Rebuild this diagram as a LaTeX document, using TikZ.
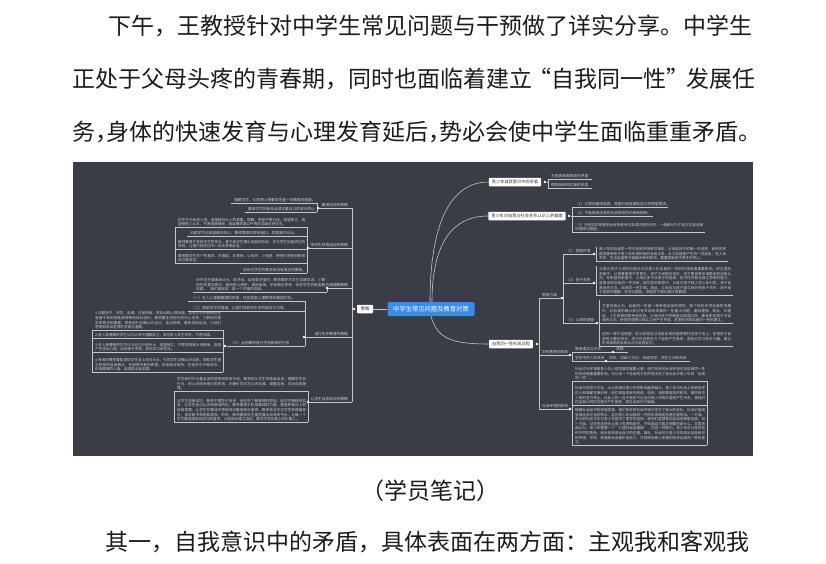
\documentclass[tikz,border=0pt]{standalone}
\usepackage{fontspec}
\setmainfont{Noto Sans CJK SC}
\XeTeXlinebreaklocale "zh"
\XeTeXlinebreakskip=0pt plus 0.5pt

\definecolor{mmbg}{RGB}{58,61,69}
\definecolor{mmline}{RGB}{196,198,202}
\definecolor{mmtext}{RGB}{205,207,211}
\definecolor{mmblue}{RGB}{58,140,232}
\definecolor{bodytext}{RGB}{28,28,28}

\newcommand\mmlabel[5]{%
  \node[lab, anchor=base west] (#1) at (#2+3,#3-1.4) {#5};
  \draw[mm] (#2,#3) -- (#4,#3);
}
\newcommand\mmlabelr[5]{%
  \node[lab, anchor=base east] (#1) at (#4-4,#3-1.4) {#5};
  \draw[mm] (#2,#3) -- (#4,#3);
}
\newcommand\mmblock[5]{%
  \pgfmathsetmacro\mmw{#4-#2-5}%
  \node[blk, text width=\mmw pt] (#1) at (#2+3,#3-0.8) {#5};
  \draw[mm] (#2,#3) -- (#4,#3);
}

\begin{document}
\begin{tikzpicture}[x=1pt, y=-1pt,
    body/.style={font=\fontsize{23}{28}\selectfont, text=bodytext, inner sep=0pt, anchor=base west},
    mm/.style={draw=mmline, line width=0.6pt},
    lab/.style={font=\fontsize{3.7}{4.6}\selectfont, text=mmtext, inner sep=0pt},
    blk/.style={font=\fontsize{3.6}{4.6}\selectfont, text=mmtext, inner sep=0pt, align=justify, anchor=south west},
    topic/.style={fill=white, text=black!80, font=\fontsize{4.2}{5}\selectfont, rounded corners=0.8pt, inner xsep=3pt, inner ysep=1.5pt, minimum height=8.5pt},
    mmdot/.style={circle, fill=white, inner sep=0pt, minimum size=2.6pt}]

\fill[white] (0,0) rectangle (826,564);
\useasboundingbox (0,0) rectangle (826,564);

\node[body] (line1) at (108,35) {下午，王教授针对中学生常见问题与干预做了详实分享。中学生};

\node[body] (line2) at (72,88) {正处于父母头疼的青春期，同时也面临着建立\kern-3.5pt“自我同一性”\kern-3.5pt 发展任};

\node[body] (line3) at (72,141) {务，\kern-12pt 身体的快速发育与心理发育延后，\kern-12pt 势必会使中学生面临重重矛盾。};

\fill[mmbg] (73,162) rectangle (753,456);

\node[fill=mmblue, text=white, rounded corners=2pt, minimum width=87pt, minimum height=14pt, inner sep=0pt, font=\fontsize{6.3}{7}\selectfont] (root) at (431,309) {中学生常见问题及教育对策};

\node[topic, minimum width=16pt] (celue) at (365,309) {策略};

\node[topic] (maodun) at (515,182) {青少年自我意识中的矛盾};

\node[topic] (piancha) at (527,216) {青少年对自我与社会关系认识上的偏差};

\node[topic] (tongyi) at (511,344) {自我同一性形成过程};

\draw[mm] (root) -- (celue);

\draw[mm] ([xshift=-1pt]root.north) .. controls +(0,-75) and +(-40,0) .. (maodun.west);

\draw[mm] ([xshift=1pt]root.north) .. controls +(0,-55) and +(-38,0) .. (piancha.west);

\draw[mm] (root.south) .. controls +(6,22) and +(-38,0) .. (tongyi.west);

\node[mmdot] (celuedot) at (354,309) {};
\node[mmdot] (maodundot) at (545,182) {};
\node[mmdot] (pianchadot) at (569,216) {};
\node[mmdot] (tongyidot) at (537,344) {};

\draw[mm] (celuedot) -- (352,309);
\draw[mm] (352,208) -- (352,402);

\mmlabelr{xinren}{318}{208}{352}{赢得信任的策略}
\mmlabelr{zixin}{308}{248}{352}{使学生获得自信的策略}
\mmlabelr{goutong}{327}{288}{352}{沟通理解策略}
\mmlabelr{shengming}{304}{337}{352}{进行生命教育的策略}
\mmlabelr{chengzhang}{308}{402}{352}{让学生自我成长的策略}

\draw[mm] (317,203) -- (317,212);
\mmlabel{xinrena}{231}{203}{317}{理解学生，从思想上尊重学生是一切教育的前提。}
\mmlabel{xinrenb}{245}{212}{317}{赢得学生的信任必须注重自己的言行举止}

\draw[mm] (307,227) -- (307,273);
\draw[mm] (175,227) -- (175,263);
\mmblock{zixina}{175}{227}{307}{初中生已有成人感，渴望得到大人的尊重、理解，希望平等对话，渴望独立，渴望被他人认可，不愿再被管束，因此教师要以平等的态度对待学生。}
\mmlabel{zixinb}{187}{236}{307}{问题学生也渴望得到关心，教师要适时表扬他们，发掘其闪光点。}
\mmblock{zixinc}{175}{249}{307}{教师要善于发现学生的优点，善于给学生展示自我的机会，多为学生创造成功的体验，让他们在成功中一步步获得自信。}
\mmblock{zixind}{175}{263}{307}{要尊重学生的个性差异，多鼓励、多表扬、少批评、少指责，使他们感受到被接纳与被肯定。}
\mmlabel{zixine}{240}{273}{307}{没有对学生的要求就没有真正的教育。}

\draw[mm] (327,288) -- (327,292);
\mmblock{goutonga}{193}{292}{327}{初中学生情绪波动大、易冲动，自我意识强烈，教师要多与学生沟通交流，了解他们的真实想法，做到耐心倾听、真诚接纳，学会换位思考，站在学生的角度看问题，“我们是朋友”是一个不错的选择。}

\draw[mm] (305,301) -- (305,346);
\mmlabel{shengminga}{188}{301}{305}{（一）在人心理最脆弱的时候，往往就是心理教育的最佳时机。}
\mmlabel{shengmingb}{188}{311}{305}{（二）感染学生的情绪，让他们体验到生命的美好与可贵。}
\mmlabel{shengmingc}{227}{346}{305}{（三）运用案例进行生命教育的引导}
\node[mmdot] (anlidot) at (225,346) {};

\draw[mm] (223,330) -- (223,372);
\draw[mm] (92,330) -- (92,372);
\mmblock{anlia}{92}{330}{223}{1.问题孩子，厌学、逃课、沉迷网络，甚至出现心理问题，这些学生的背后往往有着不幸的家庭或特殊的成长经历，教师要走进他们的内心世界，了解他们真实的想法和需要，帮助他们正确认识自己，走出困境，重新找回自信，让他们感受到来自老师的关爱与温暖。}
\mmblock{anlib}{92}{338}{223}{2.进入青春期的学生认为父母不理解自己，常与家人发生冲突，不愿沟通。}
\mmblock{anlic}{92}{352}{223}{3.进入青春期的学生认为自己已经长大，渴望独立，不愿意再被父母管束，容易产生逆反心理，出现亲子矛盾，影响学习和生活。}
\mmblock{anlid}{92}{372}{223}{4.有效的教师要能发现学生身上的闪光点，引导学生正确认识自我，帮助学生建立积极的自我概念，在困境中看到希望，学会面对挫折，在挫折中不断成长，形成健康的人格，促进其全面发展。}

\draw[mm] (308,391) -- (308,422);
\draw[mm] (174,391) -- (174,422);
\mmblock{chengzhanga}{174}{391}{308}{学生有时只为着自身的感受而采取行动，教师应从学生的角度出发，理解学生的行为，用心去倾听他们的声音，正确引导学生认识自我、调整自我，学会自我管理。}
\mmblock{chengzhangb}{174}{422}{308}{当学生犯错误时，教师不要急于批评，而应先了解事情的原因，给学生解释的机会，让学生自己认识到错误所在。教师要善于利用集体的力量，营造积极向上的班级氛围，让学生在集体中感受到归属感和价值感。教师还应关注学生的情绪变化，及时给予帮助和疏导。同时，教师要给学生提供展示自我的平台，让每一个学生都能体验到成功的喜悦，从而逐步建立自信，做学生成长路上的引路人。}

\foreach \p in {(318,208),(308,248),(327,288),(304,337),(308,402)}
  \node[mmdot] at \p {};

\draw[mm] (maodundot) -- (548,182);
\draw[mm] (548,179) -- (548,188);
\mmlabel{zhuguan}{548}{179}{592}{主观我和客观我的矛盾}
\mmlabel{lixiang}{548}{188}{592}{理想我和现实我的矛盾}

\draw[mm] (pianchadot) -- (572,216);
\draw[mm] (572,207) -- (572,232);
\mmlabel{gaokan}{572}{207}{668}{（1）过高地看待自我，希望社会能满足自己的愿望需求。}
\mmlabel{guifan}{572}{216}{653}{（2）不能接受正常的社会规范的约束和限制。}
\mmblock{pingjia}{572}{232}{705}{（3）对现实的家庭和社会背景有过高或过低的评价，一般都认为不足以实现自我的理想与愿望。}

\draw[mm] (tongyidot) -- (539,344);
\draw[mm] (539,298) -- (539,409);
\mmlabel{jiating}{539}{298}{562}{家庭方面}
\mmlabel{xuexiao}{539}{355}{570}{学校教育的影响}
\mmlabel{shehui}{539}{409}{570}{社会环境的影响}
\node[mmdot] (jiatingdot) at (562,298) {};
\node[mmdot] (xuexiaodot) at (570,355) {};
\node[mmdot] (shehuidot) at (570,409) {};

\draw[mm] (563,254) -- (563,323);
\mmlabel{huanjing}{563}{254}{594}{（1）家庭环境}
\mmlabel{qinzi}{563}{283}{594}{（2）亲子关系}
\mmlabel{qiwang}{563}{323}{597}{（3）父母的期望}
\node[mmdot] (huanjingdot) at (594,254) {};
\node[mmdot] (qinzidot) at (594,283) {};
\node[mmdot] (qiwangdot) at (597,323) {};

\draw[mm] (596,247) -- (596,261);
\mmblock{huanjingtxt}{596}{261}{728}{青少年的自我同一性与家庭环境密切相关，父母是孩子的第一任老师，良好的家庭氛围有助于青少年形成积极的自我认同，反之则容易产生同一性混乱，在人际关系、生活态度等方面都会受到影响，需要家庭给予更多的关心。}

\draw[mm] (596,266) -- (596,295);
\mmblock{qinzitxt}{596}{295}{733}{父母与孩子之间的沟通方式对青少年自我同一性的形成有着重要影响。民主型的家庭中，父母尊重孩子的意见，亲子之间相互信任，孩子更容易形成稳定的自我认同；专制型的家庭中，父母过多干涉孩子的选择，孩子往往缺乏独立思考的能力，容易出现自我同一性早闭；放任型的家庭中，父母对孩子缺少关心和引导，孩子容易迷失方向，出现同一性扩散。因此，父母应与孩子建立良好的亲子关系，给予孩子足够的理解、支持与鼓励，帮助孩子顺利度过青春期。}

\draw[mm] (599,300) -- (599,346);
\mmblock{qiwanga}{599}{323}{733}{艾里克森认为，自我同一性是一种熟悉自身的感觉，是个体在寻求自我的发展中，对自我的确认和对有关自我发展的一些重大问题，诸如理想、职业、价值观、人生观等的思考和选择。父母对孩子的期望过高或过低，都会影响孩子对自我的认识，使其在理想与现实之间产生矛盾，进而影响其自我同一性的建立。}
\mmblock{qiwangb}{599}{346}{733}{还有一种不当期望，即父母将自己未能实现的理想寄托在孩子身上，忽视孩子自身的兴趣与特长，孩子在这种压力下容易产生焦虑，甚至对学习失去兴趣，难以形成清晰的自我认识与自我定位。}

\draw[mm] (572,352) -- (572,361);
\mmlabel{linian}{572}{352}{613}{教育理念与方式}
\mmlabel{chengji}{613}{352}{628}{成绩}
\mmlabel{renji}{572}{361}{606}{学校中的人际关系}
\mmlabel{tongban}{606}{361}{690}{同伴、同龄人交往、班级同学、师生之间的关系}
\node[mmdot] (liniandot) at (613,352) {};
\node[mmdot] (renjidot) at (606,361) {};

\draw[mm] (572,381) -- (572,445);
\draw[mm] (707,381) -- (707,445);
\mmblock{wenhua}{572}{381}{707}{社会文化环境是青少年心理发展的重要土壤，他们所处的社会环境对其自我同一性的形成有着重要影响，可以说一个社会的文化环境决定了该社会中青少年的“自我同一性”。}
\mmblock{chuanmei}{572}{405}{707}{社会中的流行文化、大众传媒对青少年的影响越来越大，青少年对社会上各种各样的人和事都充满好奇，他们很容易受到网络、电视、电影等媒体的影响，模仿其中人物的言行举止。社会上的一些不良风气也会对青少年的价值观产生冲击，使他们在自我认同的过程中产生困惑，甚至出现行为偏差。}
\mmblock{duoyuan}{572}{445}{707}{随着社会经济的快速发展，我们所处的社会环境也发生了很大的变化，社会价值观呈现出多元化的特点，这对青少年自我同一性的形成既是机遇也是挑战。一方面，多元的社会文化为青少年提供了更多的选择，使他们能够更加自由地探索自我；另一方面，过多的选择也让青少年感到迷茫，不知道自己真正想要的是什么。艾里克森认为，青少年需要一个“心理社会延缓期”，在这一时期内，青少年可以尝试各种不同的角色，逐步找到适合自己的位置。因此，社会应为青少年的成长创造良好的环境，学校、家庭和社会要形成合力，共同帮助青少年顺利完成自我同一性的建立。}

\node[body, anchor=base] (caption) at (430,499) {（学员笔记）};

\node[body] (line4) at (105,550) {其一，自我意识中的矛盾，具体表面在两方面：主观我和客观我};

\end{tikzpicture}
\end{document}
